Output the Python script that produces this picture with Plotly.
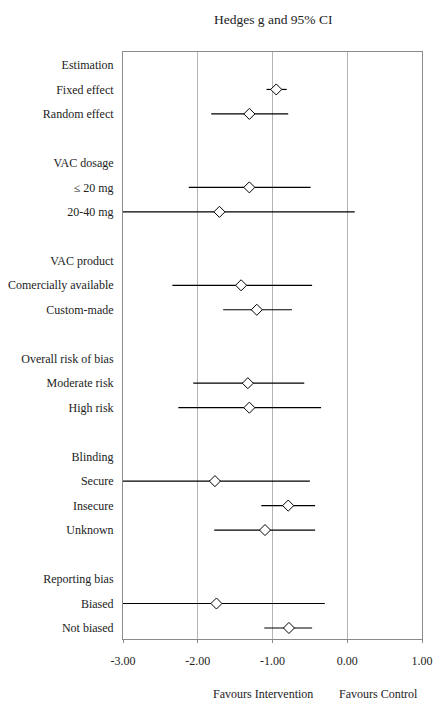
import plotly.graph_objects as go

# Rows (top to bottom); "" = blank spacer row
row_labels = [
    "Estimation", "Fixed effect", "Random effect", "",
    "VAC dosage", "\u2264 20 mg", "20-40 mg", "",
    "VAC product", "Comercially available", "Custom-made", "",
    "Overall risk of bias", "Moderate risk", "High risk", "",
    "Blinding", "Secure", "Insecure", "Unknown", "",
    "Reporting bias", "Biased", "Not biased",
]
hedges_g = [None, -0.95, -1.31, None,
            None, -1.31, -1.71, None,
            None, -1.42, -1.21, None,
            None, -1.33, -1.31, None,
            None, -1.77, -0.79, -1.10, None,
            None, -1.75, -0.78]
ci_lower = [None, -1.08, -1.82, None,
            None, -2.12, -3.30, None,
            None, -2.34, -1.66, None,
            None, -2.06, -2.26, None,
            None, -3.30, -1.15, -1.78, None,
            None, -3.30, -1.11]
ci_upper = [None, -0.81, -0.79, None,
            None, -0.49, 0.10, None,
            None, -0.47, -0.74, None,
            None, -0.575, -0.35, None,
            None, -0.50, -0.43, -0.43, None,
            None, -0.30, -0.47]
x_ticks = [-3, -2, -1, 0, 1]
x_tick_text = ["-3.00", "-2.00", "-1.00", "0.00", "1.00"]

FONT = "'Liberation Serif', 'Times New Roman', serif"

ys = list(range(len(row_labels)))
lx, ly = [], []
px, py = [], []
for i in ys:
    if ci_lower[i] is not None:
        lx += [ci_lower[i], ci_upper[i], None]
        ly += [i, i, None]
    if hedges_g[i] is not None:
        px.append(hedges_g[i])
        py.append(i)

fig = go.Figure()
fig.add_trace(go.Scatter(x=lx, y=ly, mode="lines",
                         line=dict(color="black", width=1.2),
                         hoverinfo="skip", showlegend=False))
fig.add_trace(go.Scatter(x=px, y=py, mode="markers",
                         marker=dict(symbol="diamond", size=8.5, color="white",
                                     line=dict(color="black", width=1)),
                         showlegend=False, cliponaxis=False))

# figure fills the whole window (body margin removed in post_script)
W, H = 433, 705
l, t = 123, 52
pw, ph = 422 - 123, 639 - 52
r, b = W - l - pw, H - t - ph


def px_to_paper(x, y):
    return (x - l) / pw, 1 - (y - t) / ph


annots = []
for text, x, y, size in [("Hedges g and 95% CI", 273, 20, 13.5),
                         ("Favours Intervention", 263, 694, 12),
                         ("Favours Control", 378, 694, 12)]:
    ax, ay = px_to_paper(x, y)
    annots.append(dict(text=text, x=ax, y=ay, xref="paper", yref="paper",
                       xanchor="center", yanchor="middle", showarrow=False,
                       font=dict(family=FONT, size=size, color="#222")))

fig.update_layout(
    template="none",
    width=W, height=H,
    margin=dict(l=l, r=r, t=t, b=b, autoexpand=False),
    paper_bgcolor="white", plot_bgcolor="white",
    font=dict(family=FONT, size=12, color="#222"),
    xaxis=dict(range=[-3, 1], tickvals=x_ticks, ticktext=x_tick_text,
               automargin=False,
               showgrid=True, gridcolor="#b4b4b4", gridwidth=1,
               zeroline=False, showline=True, linecolor="#8a8a8a", linewidth=1,
               mirror=True, ticks="outside", ticklen=3, tickcolor="#8a8a8a",
               ticklabelstandoff=8, tickfont=dict(family=FONT, size=12, color="#222")),
    yaxis=dict(range=[23.45, -0.53], tickvals=ys, ticktext=row_labels,
               automargin=False,
               showgrid=False, zeroline=False, showline=True, linecolor="#8a8a8a",
               linewidth=1, mirror=True, ticks="", ticklabelstandoff=6,
               tickfont=dict(family=FONT, size=12, color="#222")),
    annotations=annots,
)

fig.write_html("out.html",
               config={"displayModeBar": False, "staticPlot": True},
               post_script="document.body.style.margin='0px';"
                           "document.body.style.overflow='hidden';")
